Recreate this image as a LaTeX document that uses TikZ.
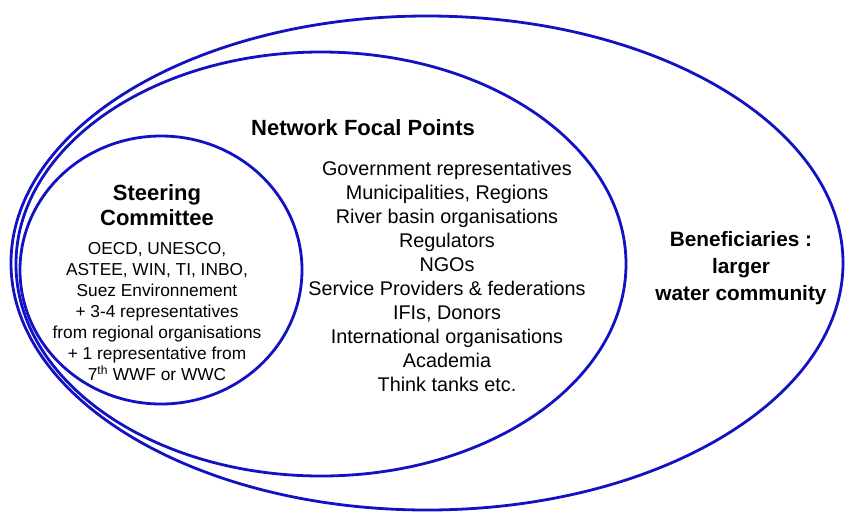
\documentclass[tikz,border=0pt]{standalone}
\usepackage{fontspec}
\setmainfont{Liberation Sans}
\definecolor{ringblue}{RGB}{18,18,196}
\begin{document}
\begin{tikzpicture}[x=1pt,y=-1pt,
  ring/.style={draw=ringblue,line width=2.8pt},
  title/.style={align=center,font=\fontsize{22}{25}\selectfont\bfseries},
  body/.style={align=center,font=\fontsize{19.8}{24}\selectfont},
  small/.style={align=center,font=\fontsize{17.3}{21}\selectfont}]
\useasboundingbox (0,0) rectangle (845,512);
\draw[ring] (427,263) ellipse [x radius=416, y radius=247];
\draw[ring] (321,264) ellipse [x radius=305, y radius=212];
\draw[ring] (161,270) ellipse [x radius=141, y radius=134];
\node[title] (nfp) at (363,128) {Network Focal Points};
\node[body] (list) at (447,276) {Government representatives\\Municipalities, Regions\\River basin organisations\\Regulators\\NGOs\\Service Providers \& federations\\IFIs, Donors\\International organisations\\Academia\\Think tanks etc.};
\node[title] (sc) at (157,205) {Steering\\Committee};
\node[small] (scb) at (157,312) {OECD, UNESCO,\\ASTEE, WIN, TI, INBO,\\Suez Environnement\\+ 3-4 representatives\\from regional organisations\\+ 1 representative from\\7\textsuperscript{th} WWF or WWC};
\node[title,font=\fontsize{20.8}{27}\selectfont\bfseries] (ben) at (741,268) {Beneficiaries :\\larger\\water community};
\end{tikzpicture}
\end{document}
